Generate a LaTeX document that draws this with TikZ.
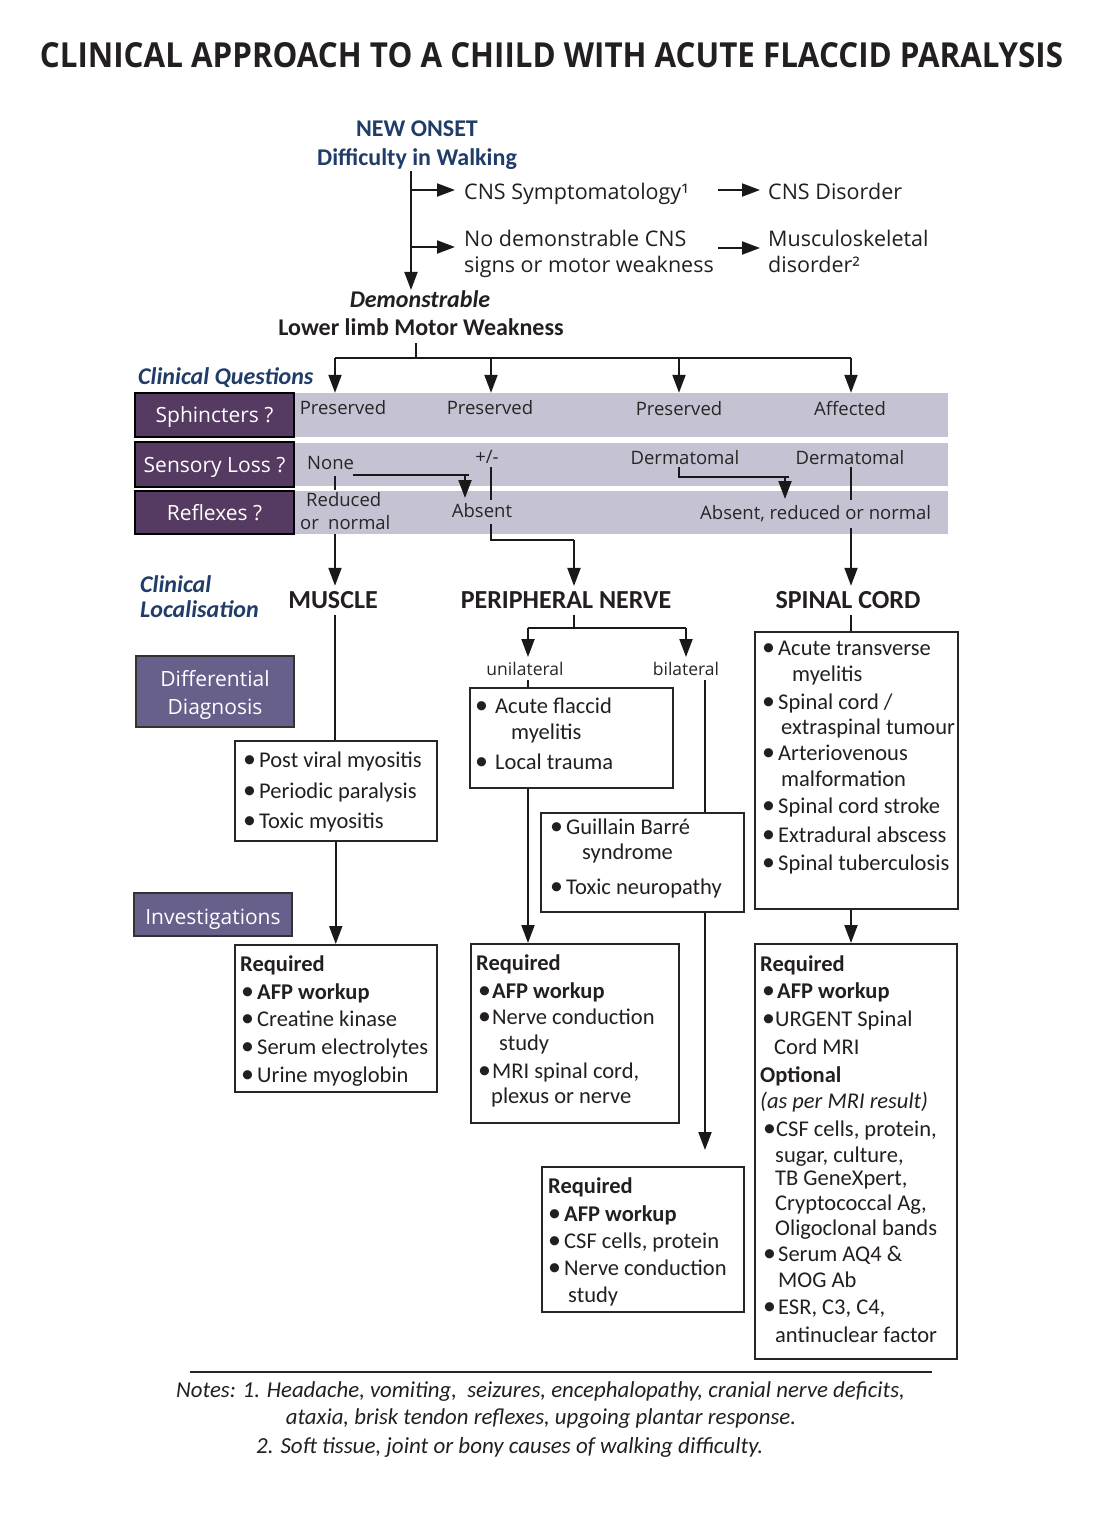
\documentclass[tikz,border=0pt]{standalone}
\usepackage{fontspec}
\setmainfont{Carlito}
\newfontfamily\osans{Open Sans}
\usetikzlibrary{arrows.meta}
\definecolor{qblue}{RGB}{31,61,104}
\definecolor{qpurple}{RGB}{85,58,97}
\definecolor{qgrey}{RGB}{197,195,211}
\definecolor{qslate}{RGB}{103,96,139}
\definecolor{ink}{RGB}{35,31,32}
\newcommand\fz[1]{\fontsize{#1pt}{#1pt}\selectfont}
\newcommand\bu[1][13pt]{\makebox[#1][l]{\hspace{-3pt}\scalebox{1.15}{•}}}
\tikzset{
  txt/.style={inner sep=0pt, anchor=base west, text=ink},
  ctxt/.style={inner sep=0pt, anchor=base, text=ink},
  conn/.style={line width=2pt, draw=black!90},
  thin/.style={line width=1.4pt, draw=black!90},
  arr/.style={conn, -{Triangle[length=18pt,width=13pt]}},
  band/.style={fill=qgrey, inner sep=0pt, minimum width=653pt},
  qlab/.style={fill=qpurple, draw=black, line width=1.3pt, text=white, inner sep=0pt,
    minimum width=159pt, font=\osans\fz{21}, text height=15pt, text depth=0pt},
  dlab/.style={fill=qslate, draw=black!80, line width=1.2pt, inner sep=0pt,
    minimum width=158pt},
  dtxt/.style={text=white, inner sep=0pt, align=center, font={\osans\fontsize{21pt}{28pt}\selectfont}},
  bxs/.style={draw=black!85, line width=1.5pt, inner sep=0pt, anchor=north west, fill=white},
  bt/.style={txt, font=\fz{22.5}},
  rowt/.style={ctxt, font=\osans\fz{18.5}, text=black!85},
  rowl/.style={txt, font=\osans\fz{18.5}, text=black!85},
}
\begin{document}
\begin{tikzpicture}[x=1pt,y=-1pt]
\useasboundingbox (0,0) rectangle (1116,1534);
\fill[white] (0,0) rectangle (1116,1534);

% title
\node[inner sep=0pt, anchor=north, text=ink] (title) at (551.5,42)
  {\resizebox{1023pt}{25pt}{\osans\bfseries CLINICAL APPROACH TO A CHIILD WITH ACUTE FLACCID PARALYSIS}};

% top part
\node[ctxt, font=\fz{24}\bfseries, text=qblue] (onset) at (417,136) {NEW ONSET};
\node[ctxt, font=\fz{24}\bfseries, text=qblue] (walk) at (417,165) {Difficulty in Walking};
\node[txt, font=\osans\fz{21.5}] (cns) at (464,199) {CNS Symptomatology¹};
\node[txt, font=\osans\fz{21.5}] (cnsd) at (768,199) {CNS Disorder};
\node[txt, font=\osans\fz{21.5}] (nodem) at (464,246) {No demonstrable CNS};
\node[txt, font=\osans\fz{21.5}] (nodem2) at (464,272) {signs or motor weakness};
\node[txt, font=\osans\fz{21.5}] (musc) at (768,246) {Musculoskeletal};
\node[txt, font=\osans\fz{21.5}] (musc2) at (768,272) {disorder²};
\node[ctxt, font=\fz{24}\bfseries\itshape] (demon) at (420,307) {Demonstrable};
\node[ctxt, font=\fz{24}\bfseries] (weak) at (421,335) {Lower limb Motor Weakness};

\coordinate (t0) at (411,171);
\coordinate (t1) at (411,190);
\coordinate (t2) at (411,247);
\draw[arr] (t0) -- (t0 |- demon.north);
\draw[arr, shorten >=9pt] (t1) -- (t1 -| cns.west);
\draw[arr, shorten >=9pt] (t2) -- (t2 -| nodem.west);
\coordinate (a1) at (718,190);
\coordinate (a2) at (718,248);
\draw[arr, shorten >=8pt] (a1) -- (a1 -| cnsd.west);
\draw[arr, shorten >=8pt] (a2) -- (a2 -| musc.west);

% clinical questions
\node[txt, font=\fz{24}\bfseries\itshape, text=qblue] (cq) at (138,384) {Clinical Questions};

\node[band, minimum height=44pt] (r1) at (621.5,415) {};
\node[band, minimum height=43pt] (r2) at (621.5,464.5) {};
\node[band, minimum height=43pt] (r3) at (621.5,512.5) {};
\node[qlab, minimum height=44pt] (sph) at (214.5,415) {Sphincters ?};
\node[qlab, minimum height=45pt] (sen) at (214.5,464.5) {Sensory Loss ?};
\node[qlab, minimum height=43pt] (ref) at (214.5,512.5) {Reflexes ?};

\coordinate (w0) at (416,343);
\coordinate (w1) at (416,358);
\coordinate (s1) at (335,358);
\coordinate (s2) at (491,358);
\coordinate (s3) at (679,358);
\coordinate (s4) at (851,358);
\draw[conn] (w0) -- (w1);
\draw[conn] (s1) -- (s4);
\foreach \s in {s1,s2,s3,s4} \draw[arr] (\s) -- (\s |- r1.north);

\node[rowt] (p1) at (343,414) {Preserved};
\node[rowt] (p2) at (490,414) {Preserved};
\node[rowt] (p3) at (679,415) {Preserved};
\node[rowt] (p4) at (850,415) {Affected};
\node[rowl] (none) at (307,469) {None};
\node[rowt] (pm) at (487,463) {+/-};
\node[rowt] (d1) at (685,464) {Dermatomal};
\node[rowt] (d2) at (850,464) {Dermatomal};
\node[rowl] (red1) at (306,506) {Reduced};
\node[rowl] (red2) at (300,529) {or\hspace{0.5em}normal};
\node[rowt] (abs) at (482,517) {Absent};
\node[rowl] (arn) at (700,519) {Absent, reduced or normal};

% row connectors
\coordinate (n0) at (353,475);
\coordinate (n1) at (469,475);
\coordinate (n2) at (465,475);
\coordinate (n3) at (465,498);
\draw[conn] (n0) -- (n1);
\draw[arr] (n2) -- (n3);
\coordinate (v1a) at (335,476);
\coordinate (v1b) at (335,490);
\draw[thin] (v1a) -- (v1b);
\coordinate (v2a) at (491,467);
\coordinate (v2b) at (491,500);
\draw[thin] (v2a) -- (v2b);
\coordinate (e1a) at (679,467);
\coordinate (e1b) at (679,477);
\coordinate (e1c) at (789,477);
\coordinate (e1d) at (785,477);
\coordinate (e1e) at (785,499);
\draw[conn] (e1a) -- (e1b) -- (e1c);
\draw[arr] (e1d) -- (e1e);
\coordinate (e2a) at (851,467);
\coordinate (e2b) at (851,500);
\draw[thin] (e2a) -- (e2b);

% localisation
\node[txt, font=\fz{24}\bfseries\itshape, text=qblue] (cl1) at (140,592) {Clinical};
\node[txt, font=\fz{24}\bfseries\itshape, text=qblue] (cl2) at (140,617) {Localisation};
\node[ctxt, font=\fz{26}\bfseries] (mus) at (333,608) {MUSCLE};
\node[ctxt, font=\fz{26}\bfseries] (pn) at (566,608) {PERIPHERAL NERVE};
\node[ctxt, font=\fz{26}\bfseries] (sc) at (848,608) {SPINAL CORD};

\coordinate (ab0) at (491,524);
\coordinate (ab1) at (491,540);
\coordinate (ab2) at (574,540);
\draw[conn] (ab0) -- (ab1) -- (ab2);
\draw[arr, shorten >=5pt] (ab2) -- (ab2 |- pn.north);
\coordinate (m0) at (335,534);
\draw[arr, shorten >=5pt] (m0) -- (m0 |- mus.north);
\coordinate (c0) at (851,528);
\draw[arr, shorten >=5pt] (c0) -- (c0 |- sc.north);

% side labels
\node[dlab, minimum height=71pt] (dd) at (215,691.5) {};
\node[dtxt] (ddt) at (215,694.5) {Differential\\Diagnosis};
\node[dlab, minimum height=43pt] (inv) at (213,914.5) {};
\node[dtxt, text height=15pt, text depth=0pt] (invt) at (213,917) {Investigations};

% boxes
\node[bxs, minimum width=202pt, minimum height=100pt] (mdd) at (234,740) {};
\node[bxs, minimum width=202pt, minimum height=147pt] (mreq) at (234,944) {};
\node[bxs, minimum width=203pt, minimum height=100pt] (ubox) at (469,687) {};
\node[bxs, minimum width=208pt, minimum height=179pt] (pnreq) at (470,943) {};
\node[bxs, minimum width=203pt, minimum height=99pt] (gbs) at (540,812) {};
\node[bxs, minimum width=202pt, minimum height=145pt] (gbsreq) at (541,1166) {};
\node[bxs, minimum width=203pt, minimum height=277pt] (scdd) at (754,631) {};
\node[bxs, minimum width=202pt, minimum height=415pt] (screq) at (754,943) {};

% muscle column
\coordinate (m1) at (335,615);
\draw[conn] (m1) -- (m1 |- mdd.north);
\draw[arr] (mdd.south) -- (mreq.north);

% peripheral nerve column
\coordinate (q0) at (574,615);
\coordinate (q1) at (574,628);
\coordinate (q2) at (528,628);
\coordinate (q3) at (686,628);
\coordinate (q2e) at (528,657);
\coordinate (q3e) at (686,657);
\draw[conn] (q0) -- (q1);
\draw[conn] (q2) -- (q3);
\draw[arr] (q2) -- (q2e);
\draw[arr] (q3) -- (q3e);
\node[rowt, font=\osans\fz{17.5}] (uni) at (525,675) {unilateral};
\node[rowt, font=\osans\fz{17.5}] (bil) at (686,675) {bilateral};
\coordinate (u0) at (528,680);
\draw[thin] (u0) -- (u0 |- ubox.north);
\draw[arr] (ubox.south -| u0) -- (pnreq.north -| u0);
\coordinate (b0) at (705,680);
\draw[conn] (b0) -- (b0 |- gbs.north);
\draw[arr, shorten >=16pt] (gbs.south -| b0) -- (gbsreq.north -| b0);

% spinal cord column
\coordinate (c1) at (851,615);
\draw[conn] (c1) -- (c1 |- scdd.north);
\draw[arr] (scdd.south -| c1) -- (screq.north -| c1);

% box texts
\node[bt] (mdd1) at (246,767) {\bu Post viral myositis};
\node[bt] (mdd2) at (246,798) {\bu Periodic paralysis};
\node[bt] (mdd3) at (246,828) {\bu Toxic myositis};

\node[bt] (mr0) at (240,971) {\bfseries Required};
\node[bt] (mr1) at (244,999) {\bu\textbf{AFP workup}};
\node[bt] (mr2) at (244,1026) {\bu Creatine kinase};
\node[bt] (mr3) at (244,1054) {\bu Serum electrolytes};
\node[bt] (mr4) at (244,1082) {\bu Urine myoglobin};

\node[bt] (u1) at (478,713) {\bu[17pt]Acute flaccid};
\node[bt] (u1b) at (511,739) {myelitis};
\node[bt] (u2) at (478,769) {\bu[17pt]Local trauma};

\node[bt] (pr0) at (476,970) {\bfseries Required};
\node[bt] (pr1) at (481,998) {\bu[11pt]\textbf{AFP workup}};
\node[bt] (pr2) at (481,1024) {\bu[11pt]Nerve conduction};
\node[bt] (pr2b) at (499,1050) {study};
\node[bt] (pr3) at (481,1078) {\bu[11pt]MRI spinal cord,};
\node[bt] (pr3b) at (491,1103) {plexus or nerve};

\node[bt] (g1) at (553,834) {\bu Guillain Barré};
\node[bt] (g1b) at (582,859) {syndrome};
\node[bt] (g2) at (553,894) {\bu Toxic neuropathy};

\node[bt] (gr0) at (548,1193) {\bfseries Required};
\node[bt] (gr1) at (551,1221) {\bu\textbf{AFP workup}};
\node[bt] (gr2) at (551,1248) {\bu CSF cells, protein};
\node[bt] (gr3) at (551,1275) {\bu Nerve conduction};
\node[bt] (gr3b) at (568,1302) {study};

\node[bt] (sd1) at (765,655) {\bu Acute transverse};
\node[bt] (sd1b) at (792,681) {myelitis};
\node[bt] (sd2) at (765,709) {\bu Spinal cord /};
\node[bt] (sd2b) at (781,734) {extraspinal tumour};
\node[bt] (sd3) at (765,760) {\bu Arteriovenous};
\node[bt] (sd3b) at (781,786) {malformation};
\node[bt] (sd4) at (765,813) {\bu Spinal cord stroke};
\node[bt] (sd5) at (765,842) {\bu Extradural abscess};
\node[bt] (sd6) at (765,870) {\bu Spinal tuberculosis};

\node[bt] (sq0) at (760,971) {\bfseries Required};
\node[bt] (sq1) at (765,998) {\bu[12pt]\textbf{AFP workup}};
\node[bt] (sq2) at (765,1026) {\bu[10pt]URGENT Spinal};
\node[bt] (sq2b) at (774,1054) {Cord MRI};
\node[bt] (sq3) at (760,1082) {\bfseries Optional};
\node[bt] (sq4) at (760,1108) {\itshape (as per MRI result)};
\node[bt] (sq5) at (766,1136) {\bu[10pt]CSF cells, protein,};
\node[bt] (sq5b) at (775,1162) {sugar, culture,};
\node[bt] (sq5c) at (775,1185) {TB GeneXpert,};
\node[bt] (sq5d) at (775,1210) {Cryptococcal Ag,};
\node[bt] (sq5e) at (775,1235) {Oligoclonal bands};
\node[bt] (sq6) at (766,1261) {\bu[12pt]Serum AQ4 \&};
\node[bt] (sq6b) at (778,1287) {MOG Ab};
\node[bt] (sq7) at (766,1314) {\bu[12pt]ESR, C3, C4,};
\node[bt] (sq7b) at (775,1342) {antinuclear factor};

% notes
\coordinate (nl) at (190,1372);
\coordinate (nr) at (932,1372);
\draw[line width=1.6pt, draw=black!85] (nl) -- (nr);
\node[txt, font=\fz{22.8}\itshape] (nt1) at (176,1397) {Notes: 1. Headache, vomiting,\ \ seizures, encephalopathy, cranial nerve deficits,};
\node[ctxt, font=\fz{22.8}\itshape] (nt2) at (541,1424) {ataxia, brisk tendon reflexes, upgoing plantar response.};
\node[txt, font=\fz{23}\itshape] (nt3) at (256,1453) {2. Soft tissue, joint or bony causes of walking difficulty.};
\end{tikzpicture}
\end{document}
